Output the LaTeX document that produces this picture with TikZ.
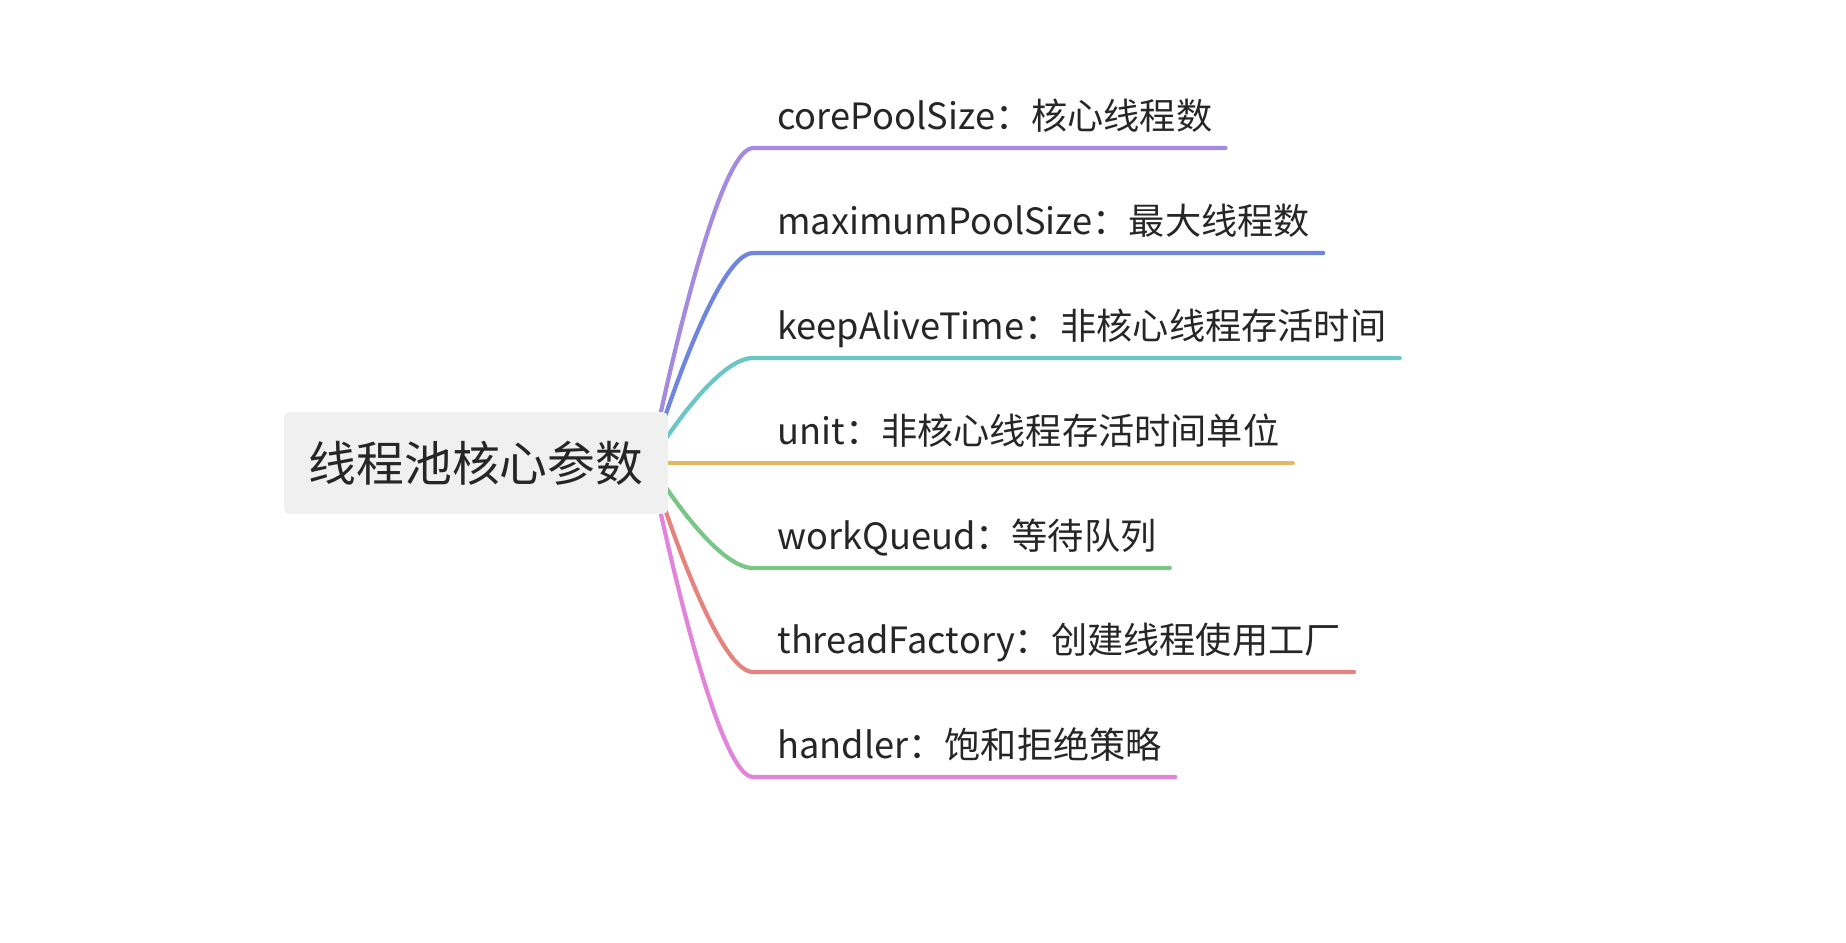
\documentclass[tikz,border=0pt]{standalone}
\usepackage{fontspec}
\usepackage{xcolor}
\usepackage{tikz}
\usetikzlibrary{calc,backgrounds}
\newfontfamily\cjk{Noto Sans CJK SC}
\definecolor{rootGray}{HTML}{EFF0EF}
\definecolor{txtGray}{HTML}{262626}
\definecolor{cPurple}{HTML}{A48BE0}
\definecolor{cBlue}{HTML}{6E86E0}
\definecolor{cTeal}{HTML}{6CC6C4}
\definecolor{cYellow}{HTML}{E3B95B}
\definecolor{cGreen}{HTML}{7BC586}
\definecolor{cRed}{HTML}{E5847F}
\definecolor{cPink}{HTML}{E285DA}

\begin{document}
\begin{tikzpicture}[x=0.02cm, y=-0.02cm,
 root/.style={fill=rootGray,rounded corners=3pt,minimum width=7.68cm,minimum height=2.04cm,text=txtGray,font=\cjk\fontsize{27.2}{32}\selectfont},
 lbl/.style={anchor=base west,inner sep=0pt,text=txtGray,font=\cjk\fontsize{20.6}{24}\selectfont},
 br/.style={line width=2.4pt,line cap=round}]
\useasboundingbox (0,0) rectangle (1846,943);
\node[root] (root) at (476,463) {线程池核心参数};
\coordinate (hub) at (650,463);
\node[lbl] (core) at (777,129) {corePoolSize：核心线程数};
\node[lbl] (max) at (777,234) {maximumPoolSize：最大线程数};
\node[lbl] (keep) at (777,339) {keepAliveTime：非核心线程存活时间};
\node[lbl] (unit) at (777,444) {unit：非核心线程存活时间单位};
\node[lbl] (queue) at (777,549) {workQueud：等待队列};
\node[lbl] (fact) at (777,653) {threadFactory：创建线程使用工厂};
\node[lbl] (hand) at (777,758) {handler：饱和拒绝策略};
\coordinate (core-l) at (753,148);
\coordinate (max-l) at (753,253);
\coordinate (keep-l) at (753,358);
\coordinate (unit-l) at (753,463);
\coordinate (queue-l) at (753,568);
\coordinate (fact-l) at (753,672);
\coordinate (hand-l) at (753,777);
\begin{scope}[on background layer]
\draw[br,cPurple] (hub) .. controls (hub) and ($(core-l)+(-40,0)$) .. (core-l) -- ($(core-l -| core.east)+(13,0)$);
\draw[br,cBlue] (hub) .. controls (hub) and ($(max-l)+(-40,0)$) .. (max-l) -- ($(max-l -| max.east)+(13,0)$);
\draw[br,cTeal] (hub) .. controls (hub) and ($(keep-l)+(-40,0)$) .. (keep-l) -- ($(keep-l -| keep.east)+(13,0)$);
\draw[br,cYellow] (hub) -- (unit-l) -- ($(unit-l -| unit.east)+(13,0)$);
\draw[br,cGreen] (hub) .. controls (hub) and ($(queue-l)+(-40,0)$) .. (queue-l) -- ($(queue-l -| queue.east)+(13,0)$);
\draw[br,cRed] (hub) .. controls (hub) and ($(fact-l)+(-40,0)$) .. (fact-l) -- ($(fact-l -| fact.east)+(13,0)$);
\draw[br,cPink] (hub) .. controls (hub) and ($(hand-l)+(-40,0)$) .. (hand-l) -- ($(hand-l -| hand.east)+(13,0)$);
\end{scope}
\end{tikzpicture}
\end{document}
